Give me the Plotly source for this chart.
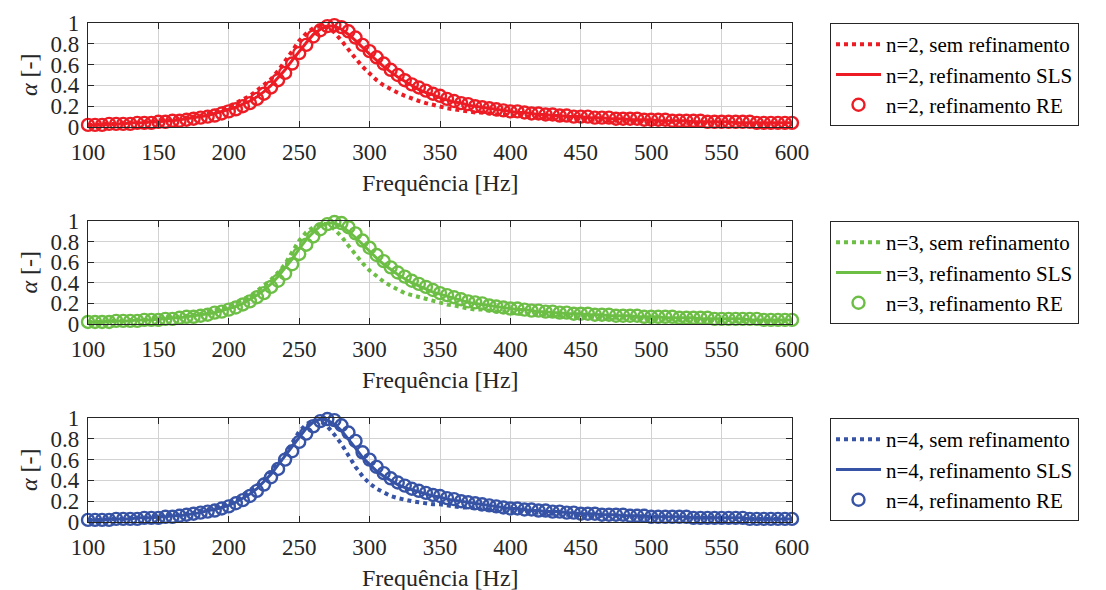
import plotly.graph_objects as go

# ---------------- data ----------------
freq = list(range(100, 605, 5))
x_ticks = [100, 150, 200, 250, 300, 350, 400, 450, 500, 550, 600]
y_ticks = [0, 0.2, 0.4, 0.6, 0.8, 1]
y_ticklabels = ["0", "0.2", "0.4", "0.6", "0.8", "1"]

n2_sem = [
    .02, .02, .03, .03, .03, .04, .04, .04, .05, .05,
    .06, .06, .07, .08, .09, .10, .11, .13, .15, .17,
    .20, .23, .26, .30, .35, .40, .46, .54, .63, .73,
    .83, .90, .95, .97, .96, .91, .83, .74, .66, .58,
    .51, .45, .40, .36, .33, .30, .27, .25, .23, .21,
    .20, .18, .17, .16, .15, .14, .14, .13, .12, .12,
    .11, .11, .10, .10, .09, .09, .09, .08, .08, .08,
    .07, .07, .07, .07, .06, .06, .06, .06, .06, .05,
    .05, .05, .05, .05, .05, .04, .04, .04, .04, .04,
    .04, .04, .04, .03, .03, .03, .03, .03, .03, .03,
    .03]
n2_sls = [
    .02, .02, .02, .03, .03, .03, .04, .04, .04, .05,
    .05, .06, .06, .07, .08, .09, .10, .11, .13, .15,
    .17, .19, .22, .25, .29, .34, .40, .47, .55, .64,
    .73, .81, .89, .94, .97, .97, .94, .89, .83, .76,
    .70, .64, .58, .53, .48, .44, .40, .36, .33, .31,
    .28, .26, .24, .23, .21, .20, .19, .18, .17, .16,
    .15, .14, .14, .13, .12, .12, .11, .11, .10, .10,
    .10, .09, .09, .09, .08, .08, .08, .07, .07, .07,
    .07, .06, .06, .06, .06, .06, .05, .05, .05, .05,
    .05, .05, .04, .04, .04, .04, .04, .04, .04, .04,
    .04]
n2_re = [
    .02, .02, .02, .03, .03, .03, .03, .04, .04, .04,
    .05, .05, .06, .06, .07, .08, .09, .10, .11, .13,
    .15, .17, .20, .23, .27, .32, .38, .45, .52, .61,
    .71, .79, .87, .93, .97, .98, .96, .92, .86, .79,
    .73, .67, .61, .55, .50, .45, .41, .38, .35, .32,
    .30, .27, .25, .23, .22, .20, .19, .18, .17, .16,
    .15, .15, .14, .13, .13, .12, .12, .11, .11, .10,
    .10, .10, .09, .09, .09, .08, .08, .08, .08, .07,
    .07, .07, .07, .06, .06, .06, .06, .06, .05, .05,
    .05, .05, .05, .05, .05, .04, .04, .04, .04, .04,
    .04]

n3_sem = [
    .02, .02, .02, .03, .03, .03, .04, .04, .04, .05,
    .05, .06, .06, .07, .08, .09, .10, .12, .13, .15,
    .18, .20, .23, .27, .32, .37, .43, .50, .58, .70,
    .81, .89, .94, .97, .97, .92, .85, .76, .67, .59,
    .52, .46, .41, .37, .33, .30, .28, .26, .24, .22,
    .20, .19, .18, .16, .15, .14, .14, .13, .12, .12,
    .11, .10, .10, .10, .09, .09, .08, .08, .08, .07,
    .07, .07, .07, .06, .06, .06, .06, .06, .05, .05,
    .05, .05, .05, .05, .04, .04, .04, .04, .04, .04,
    .04, .04, .03, .03, .03, .03, .03, .03, .03, .03,
    .03]
n3_sls = [
    .02, .02, .02, .03, .03, .03, .03, .04, .04, .04,
    .05, .05, .06, .06, .07, .08, .09, .10, .11, .13,
    .15, .17, .20, .24, .28, .33, .39, .46, .54, .63,
    .73, .82, .89, .95, .98, .98, .95, .90, .84, .77,
    .70, .64, .58, .53, .48, .44, .40, .37, .34, .31,
    .29, .27, .25, .23, .21, .20, .19, .18, .17, .16,
    .15, .14, .14, .13, .12, .12, .11, .11, .10, .10,
    .10, .09, .09, .09, .08, .08, .08, .08, .07, .07,
    .07, .07, .06, .06, .06, .06, .06, .05, .05, .05,
    .05, .05, .05, .05, .04, .04, .04, .04, .04, .04,
    .04]
n3_re = [
    .02, .02, .02, .02, .03, .03, .03, .03, .04, .04,
    .04, .05, .05, .06, .07, .07, .08, .09, .11, .12,
    .14, .16, .19, .22, .26, .30, .36, .42, .49, .58,
    .68, .77, .85, .92, .97, .99, .98, .94, .88, .81,
    .74, .67, .61, .55, .50, .46, .42, .39, .36, .33,
    .30, .28, .26, .24, .22, .21, .20, .18, .17, .16,
    .15, .15, .14, .13, .13, .12, .12, .11, .11, .10,
    .10, .10, .09, .09, .09, .08, .08, .08, .08, .07,
    .07, .07, .07, .07, .06, .06, .06, .06, .06, .05,
    .05, .05, .05, .05, .05, .05, .04, .04, .04, .04,
    .04]

n4_sem = [
    .02, .02, .02, .03, .03, .03, .04, .04, .04, .05,
    .05, .06, .07, .07, .08, .09, .11, .12, .14, .16,
    .19, .22, .26, .30, .35, .41, .48, .56, .65, .76,
    .87, .94, .98, .97, .92, .84, .75, .64, .53, .44,
    .37, .32, .28, .25, .23, .21, .20, .19, .18, .17,
    .17, .16, .15, .14, .14, .13, .12, .12, .11, .11,
    .10, .10, .09, .09, .09, .08, .08, .08, .07, .07,
    .07, .07, .06, .06, .06, .06, .06, .05, .05, .05,
    .05, .05, .05, .05, .04, .04, .04, .04, .04, .04,
    .04, .04, .03, .03, .03, .03, .03, .03, .03, .03,
    .03]
n4_sls = [
    .02, .02, .02, .03, .03, .03, .03, .04, .04, .04,
    .05, .05, .06, .06, .07, .08, .09, .11, .12, .14,
    .16, .19, .23, .27, .32, .39, .46, .55, .64, .73,
    .82, .90, .96, .99, .98, .94, .88, .80, .71, .62,
    .55, .49, .44, .40, .36, .33, .31, .29, .27, .25,
    .24, .22, .21, .20, .19, .18, .17, .16, .15, .14,
    .13, .13, .12, .11, .11, .10, .10, .10, .09, .09,
    .08, .08, .08, .07, .07, .07, .06, .06, .06, .06,
    .05, .05, .05, .05, .05, .05, .04, .04, .04, .04,
    .04, .04, .04, .04, .03, .03, .03, .03, .03, .03,
    .03]
n4_re = [
    .02, .02, .02, .02, .03, .03, .03, .03, .04, .04,
    .04, .05, .05, .06, .07, .08, .09, .10, .11, .13,
    .15, .18, .21, .25, .30, .36, .43, .51, .60, .68,
    .77, .85, .92, .97, .99, .98, .93, .86, .78, .67,
    .60, .53, .47, .42, .38, .35, .32, .30, .28, .26,
    .25, .23, .22, .20, .19, .18, .17, .16, .15, .14,
    .13, .13, .12, .12, .11, .11, .10, .10, .09, .09,
    .08, .08, .08, .07, .07, .07, .07, .06, .06, .06,
    .05, .05, .05, .05, .05, .05, .04, .04, .04, .04,
    .04, .04, .04, .04, .03, .03, .03, .03, .03, .03,
    .03]

panels = [
    ("n=2", "#ED1C24", n2_sem, n2_sls, n2_re),
    ("n=3", "#6CBE45", n3_sem, n3_sls, n3_re),
    ("n=4", "#3653A5", n4_sem, n4_sls, n4_re),
]

# ---------------- layout geometry (figure pixels; page adds 8px body margin) ----------------
W, H = 1098, 582
x_left, x_right = 80, 784
panel_tops = [15, 213, 410]
panel_bottoms = [119, 316, 514]
legend_left = 822

FONT = "Liberation Serif"
AX = "#262626"

fig = go.Figure()
annotations = []
layout_axes = {}

for i, (lab, col, sem, sls, re_) in enumerate(panels):
    k = "" if i == 0 else str(i + 1)
    xa, ya = "x" + k, "y" + k
    lg = "legend" + k
    fig.add_trace(go.Scatter(x=freq, y=sem, mode="lines", name=f"{lab}, sem refinamento",
                             line=dict(color=col, width=4, dash="dot"),
                             xaxis=xa, yaxis=ya, legend=lg, cliponaxis=False))
    fig.add_trace(go.Scatter(x=freq, y=sls, mode="lines", name=f"{lab}, refinamento SLS",
                             line=dict(color=col, width=3),
                             xaxis=xa, yaxis=ya, legend=lg, cliponaxis=False))
    fig.add_trace(go.Scatter(x=freq, y=re_, mode="markers", name=f"{lab}, refinamento RE",
                             marker=dict(symbol="circle-open", size=12, color=col,
                                         line=dict(width=2.4, color=col)),
                             xaxis=xa, yaxis=ya, legend=lg, cliponaxis=False))

    top, bot = panel_tops[i], panel_bottoms[i]
    ydom = [1 - bot / H, 1 - top / H]
    xdom = [x_left / W, x_right / W]
    common = dict(showline=True, linecolor=AX, linewidth=1.2, mirror="ticks",
                  ticks="inside", ticklen=6, tickwidth=1.2, tickcolor=AX,
                  showgrid=True, gridcolor="#d2d2d2", gridwidth=1, zeroline=False,
                  tickfont=dict(family=FONT, size=23, color=AX), automargin=False)
    layout_axes["xaxis" + k] = dict(common, domain=xdom, range=[100, 600],
                                    tickvals=x_ticks, anchor=ya, ticklabelstandoff=4)
    layout_axes["yaxis" + k] = dict(common, domain=ydom, range=[0, 1],
                                    tickvals=y_ticks, ticktext=y_ticklabels, anchor=xa,
                                    ticklabelstandoff=3)
    layout_axes[lg] = dict(x=legend_left / W, y=1 - top / H, xanchor="left", yanchor="top",
                           bgcolor="white", bordercolor=AX, borderwidth=1,
                           font=dict(family=FONT, size=21, color="black"),
                           itemwidth=45, tracegroupgap=0)
    annotations.append(dict(text="Frequência [Hz]", xref="paper", yref="paper",
                            x=(x_left + x_right) / 2 / W, y=1 - (bot + 56) / H,
                            xanchor="center", yanchor="middle", showarrow=False,
                            font=dict(family=FONT, size=24, color=AX)))
    annotations.append(dict(text="<i>α</i> [-]", xref="paper", yref="paper",
                            x=21 / W, y=1 - (top + bot) / 2 / H, textangle=-90,
                            xanchor="center", yanchor="middle", showarrow=False,
                            font=dict(family=FONT, size=24, color=AX)))

fig.update_layout(width=W, height=H, margin=dict(l=0, r=0, t=0, b=0),
                  paper_bgcolor="white", plot_bgcolor="white",
                  annotations=annotations, **layout_axes)

fig.write_html("out.html")
